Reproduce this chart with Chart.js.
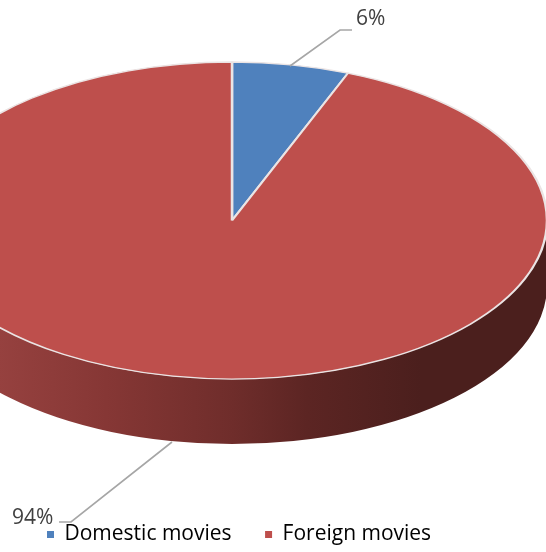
<!DOCTYPE html>
<html>
<head>
<meta charset="utf-8">
<style>
html, body { margin: 0; padding: 0; background: #fff; }
canvas { display: block; }
</style>
<script src="https://cdn.jsdelivr.net/npm/chart.js@4/dist/chart.umd.js"></script>
</head>
<body>
<canvas id="pie" width="546" height="552"></canvas>
<script>
var categories = ["Domestic movies", "Foreign movies"];
var shares = [6, 94];
var sliceColors = ["#4f81bd", "#be4f4c"];

// the tilted look: pie is squashed into an ellipse and a wall is put under it
var centerX = 232, centerY = 220.5, radiusX = 315, radiusY = 158.5, depth = 65;

var tiltPlugin = {
    id: "tilt",
    beforeDatasetsDraw: function(chart) {
        var ctx = chart.ctx;
        var arc = chart.getDatasetMeta(0).data[0];

        var wall = ctx.createLinearGradient(-83, 0, 547, 0);
        wall.addColorStop(0, "#a84644");
        wall.addColorStop(0.13, "#96413f");
        wall.addColorStop(0.3, "#863735");
        wall.addColorStop(0.5, "#6f2d2b");
        wall.addColorStop(0.62, "#5c2523");
        wall.addColorStop(0.8, "#4b1f1d");
        wall.addColorStop(1, "#4b1f1d");
        ctx.save();
        ctx.beginPath();
        ctx.ellipse(centerX, centerY, radiusX, radiusY, 0, 0, Math.PI);
        ctx.ellipse(centerX, centerY + depth, radiusX, radiusY, 0, Math.PI, 0, true);
        ctx.closePath();
        ctx.fillStyle = wall;
        ctx.fill();
        ctx.restore();

        ctx.save();
        ctx.translate(centerX, centerY);
        ctx.scale(1, radiusY / radiusX);
        ctx.translate(-arc.x, -arc.y);
    },
    afterDatasetsDraw: function(chart) {
        var ctx = chart.ctx;
        ctx.restore();

        // leader lines and percent labels
        ctx.save();
        ctx.strokeStyle = "#a6a6a6";
        ctx.lineWidth = 1.6;
        ctx.beginPath();
        ctx.moveTo(290, 66);
        ctx.lineTo(340, 30);
        ctx.lineTo(352, 30);
        ctx.moveTo(172, 442);
        ctx.lineTo(71, 522);
        ctx.lineTo(59, 522);
        ctx.stroke();
        ctx.fillStyle = "#404040";
        ctx.font = "21px 'Open Sans'";
        ctx.textBaseline = "middle";
        ctx.fillText(shares[0] + "%", 356, 19);
        ctx.fillText(shares[1] + "%", 12, 518);
        ctx.restore();
    }
};

var ctx = document.getElementById("pie").getContext("2d");
var myChart = new Chart(ctx, {
    type: "pie",
    plugins: [tiltPlugin],
    data: {
        labels: categories,
        datasets: [{
            data: shares,
            backgroundColor: sliceColors,
            borderColor: "#ebe4e4",
            borderWidth: 2.5,
            radius: radiusX,
            clip: false
        }]
    },
    options: {
        responsive: false,
        animation: false,
        layout: { padding: { left: 13.5, bottom: -3 } },
        plugins: {
            tooltip: { enabled: false },
            legend: {
                position: "bottom",
                align: "start",
                labels: {
                    usePointStyle: true,
                    pointStyle: "rect",
                    boxWidth: 7,
                    boxHeight: 7,
                    padding: 33.5,
                    color: "#595959",
                    font: { family: "'Open Sans'", size: 21 },
                    generateLabels: function(chart) {
                        return categories.map(function(name, i) {
                            return {
                                text: name,
                                fillStyle: sliceColors[i],
                                strokeStyle: sliceColors[i],
                                lineWidth: 0,
                                pointStyle: "rect",
                                index: i
                            };
                        });
                    }
                }
            }
        }
    }
});
</script>
</body>
</html>
